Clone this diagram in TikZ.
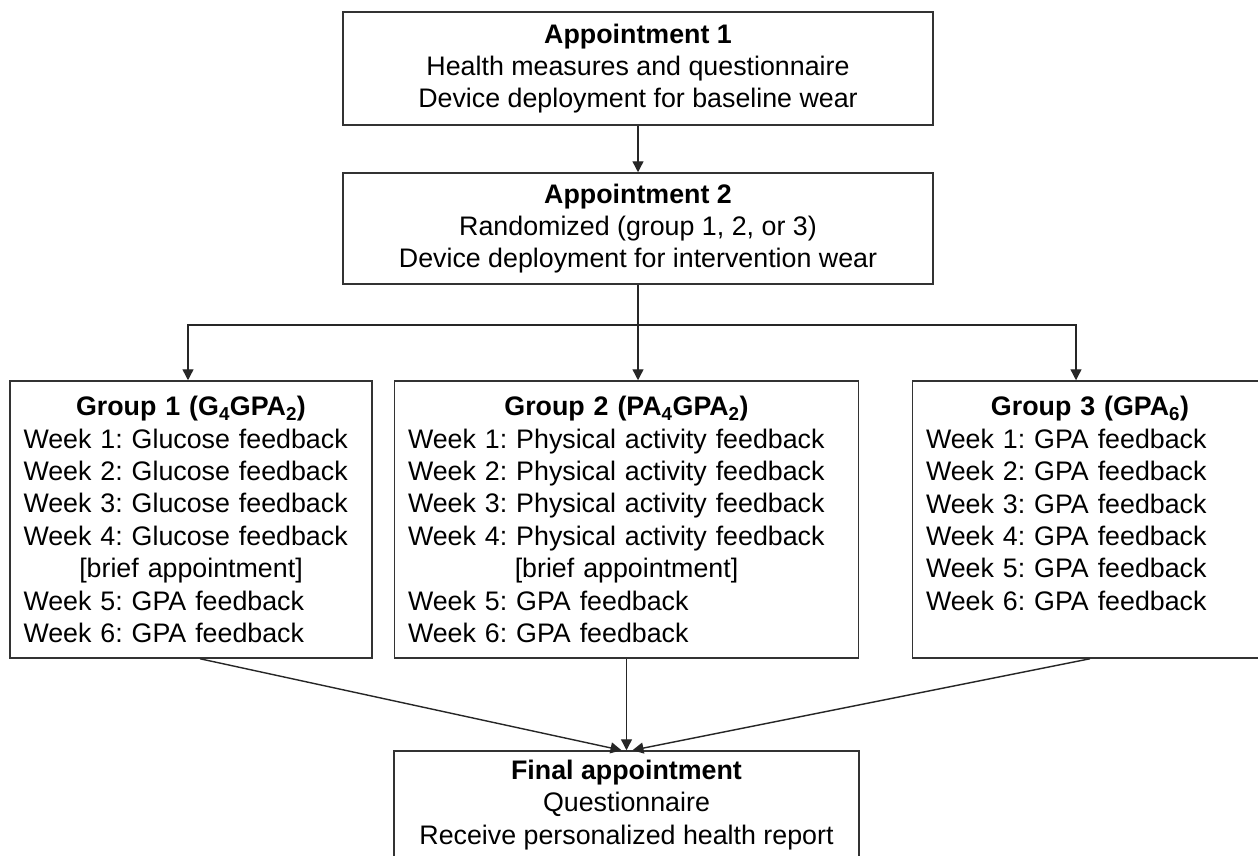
\documentclass[tikz,border=0pt]{standalone}
\usepackage{fontspec}
\setmainfont{Liberation Sans}
\usetikzlibrary{arrows.meta,calc}
\begin{document}
\begin{tikzpicture}[x=1pt,y=-1pt,
  box/.style={draw=black!80, line width=1.5pt, inner ysep=0pt,
    font=\fontsize{26.8}{32.4}\selectfont\frenchspacing},
  ctr/.style={box, align=center, inner xsep=0pt},
  grp/.style={box, align=left, inner xsep=13.5pt, minimum height=277pt},
  conn/.style={draw=black!85, line width=1.4pt, -{Triangle[length=11pt,width=11pt]}},
  link/.style={draw=black!85, line width=1.4pt}]
\useasboundingbox (0,0) rectangle (1258,856);
\fill[white] (0,0) rectangle (1258,856);
\clip (0,0) rectangle (1258,856);

\node[ctr, minimum width=590pt, minimum height=113pt] (a1) at (638,68.5)
  {\textbf{Appointment 1}\\Health measures and questionnaire\\Device deployment for baseline wear};
\node[ctr, minimum width=590pt, minimum height=111pt] (a2) at (638,228.5)
  {\textbf{Appointment 2}\\Randomized (group 1, 2, or 3)\\Device deployment for intervention wear};

\node[grp, text width=335pt] (g1) at (191,519.5)
  {\makebox[\linewidth]{\textbf{Group 1 (G\textsubscript{4}GPA\textsubscript{2})}}\\
   Week 1: Glucose feedback\\
   Week 2: Glucose feedback\\
   Week 3: Glucose feedback\\
   Week 4: Glucose feedback\\
   \makebox[\linewidth]{[brief appointment]}\\
   Week 5: GPA feedback\\
   Week 6: GPA feedback};
\node[grp, text width=437pt] (g2) at (626.5,519.5)
  {\makebox[\linewidth]{\textbf{Group 2 (PA\textsubscript{4}GPA\textsubscript{2})}}\\
   Week 1: Physical activity feedback\\
   Week 2: Physical activity feedback\\
   Week 3: Physical activity feedback\\
   Week 4: Physical activity feedback\\
   \makebox[\linewidth]{[brief appointment]}\\
   Week 5: GPA feedback\\
   Week 6: GPA feedback};
\node[grp, text width=328pt] (g3) at (1090,519.5)
  {\makebox[\linewidth]{\textbf{Group 3 (GPA\textsubscript{6})}}\\
   Week 1: GPA feedback\\
   Week 2: GPA feedback\\
   Week 3: GPA feedback\\
   Week 4: GPA feedback\\
   Week 5: GPA feedback\\
   Week 6: GPA feedback\\
   \mbox{}};

\node[ctr, minimum width=465pt, minimum height=108pt] (fin) at (626.5,805)
  {\textbf{Final appointment}\\Questionnaire\\Receive personalized health report};

\coordinate (j) at (638,325);
\draw[conn] (a1) -- (a2);
\draw[link] (a2.south) -- (j);
\draw[conn] (j) -- (j |- g2.north);
\draw[conn] (j) -| ($(g1.north)+(-3,0)$);
\draw[conn] (j) -| ($(g3.north)+(-14,0)$);

\draw[conn] ($(g1.south)+(9,0)$) -- ($(fin.north)+(-5,0)$);
\draw[conn] (g2.south) -- (fin.north);
\draw[conn] (g3.south) -- ($(fin.north)+(6,0)$);
\end{tikzpicture}
\end{document}
